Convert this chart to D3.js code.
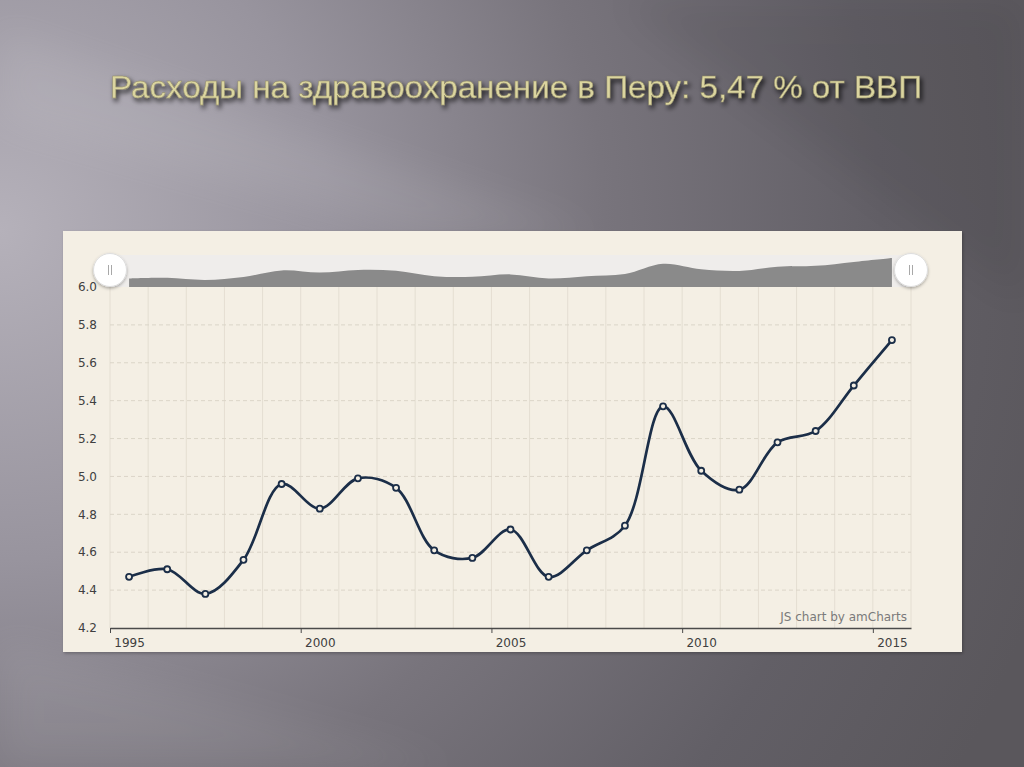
<!DOCTYPE html>
<html>
<head>
<meta charset="utf-8">
<script src="https://cdn.jsdelivr.net/npm/d3@7"></script>
<style>
  html, body { margin: 0; padding: 0; background: #6a676d; }
  svg { display: block; }
</style>
</head>
<body>
<svg id="chart" width="1024" height="767"></svg>
<script>
// ---- data ----
const title = "Расходы на здравоохранение в Перу: 5,47 % от ВВП";
const years = [1995,1996,1997,1998,1999,2000,2001,2002,2003,2004,2005,2006,2007,2008,2009,2010,2011,2012,2013,2014,2015];
const values = [4.47,4.51,4.38,4.56,4.96,4.83,4.99,4.94,4.61,4.57,4.72,4.47,4.61,4.74,5.37,5.03,4.93,5.18,5.24,5.48,5.72];
const yTicks = [4.2,4.4,4.6,4.8,5.0,5.2,5.4,5.6,5.8,6.0];
const xTickYears = [1995,2000,2005,2010,2015];
const credit = "JS chart by amCharts";

const svg = d3.select("#chart");
const defs = svg.append("defs");

// ---- slide background ----
const bg = defs.append("radialGradient").attr("id","bg")
  .attr("gradientUnits","userSpaceOnUse").attr("cx",0).attr("cy",230).attr("r",1100);
bg.append("stop").attr("offset","0").attr("stop-color","#b5b1ba");
bg.append("stop").attr("offset","0.3").attr("stop-color","#98949e");
bg.append("stop").attr("offset","0.55").attr("stop-color","#78747c");
bg.append("stop").attr("offset","0.8").attr("stop-color","#625f66");
bg.append("stop").attr("offset","1").attr("stop-color","#5a575c");
svg.append("rect").attr("width",1024).attr("height",767).attr("fill","url(#bg)");

const blur = defs.append("filter").attr("id","blur").attr("x","-20%").attr("y","-20%").attr("width","140%").attr("height","140%");
blur.append("feGaussianBlur").attr("stdDeviation",18);
svg.append("path").attr("d","M0,120 L420,235 L600,235 L0,30 Z").attr("fill","#ffffff").attr("opacity",0.07).attr("filter","url(#blur)");
svg.append("path").attr("d","M0,640 L460,767 L0,767 Z").attr("fill","#ffffff").attr("opacity",0.06).attr("filter","url(#blur)");
svg.append("path").attr("d","M620,0 L1024,0 L1024,300 Z").attr("fill","#000000").attr("opacity",0.06).attr("filter","url(#blur)");

// title
const tShadow = defs.append("filter").attr("id","tshadow").attr("x","-10%").attr("y","-50%").attr("width","120%").attr("height","200%");
tShadow.append("feDropShadow").attr("dx",2).attr("dy",3).attr("stdDeviation",2.5).attr("flood-color","#000").attr("flood-opacity",0.85);
svg.append("text")
  .attr("x",516).attr("y",98)
  .attr("text-anchor","middle")
  .attr("font-family","'Liberation Sans',Arial,sans-serif")
  .attr("font-size",32)
  .attr("textLength",812).attr("lengthAdjust","spacingAndGlyphs")
  .attr("fill","#dbd59f")
  .attr("stroke","#8c8660").attr("stroke-width",0.4)
  .attr("filter","url(#tshadow)")
  .text(title);

// ---- chart panel ----
const panelShadow = defs.append("filter").attr("id","pshadow").attr("x","-5%").attr("y","-5%").attr("width","110%").attr("height","115%");
panelShadow.append("feDropShadow").attr("dx",1).attr("dy",1.5).attr("stdDeviation",1.5).attr("flood-color","#000").attr("flood-opacity",0.25);
svg.append("rect").attr("x",63).attr("y",231).attr("width",899).attr("height",421)
  .attr("fill","#f4efe4").attr("filter","url(#pshadow)");

const x = d3.scaleLinear().domain([1995, 2016]).range([110, 911]);
const y = d3.scaleLinear().domain([4.2, 6.0]).range([628, 287]);
const ys = d3.scaleLinear().domain([3.95, 5.75]).range([287, 257.5]); // scrollbar mini-graph

const g = svg.append("g");
const labelFont = "'DejaVu Sans',Verdana,sans-serif";

// vertical grid (each year)
g.selectAll("line.vgrid").data(d3.range(1995, 2017)).join("line")
  .attr("class","vgrid")
  .attr("x1", d => x(d)).attr("x2", d => x(d))
  .attr("y1", y(6.0)).attr("y2", y(4.2))
  .attr("stroke","#e4ded2").attr("stroke-width",1);

// horizontal dashed grid
g.selectAll("line.hgrid").data(yTicks.filter(v => v > 4.2 && v < 6.0)).join("line")
  .attr("class","hgrid")
  .attr("x1", x(1995)).attr("x2", x(2016))
  .attr("y1", d => y(d)).attr("y2", d => y(d))
  .attr("stroke","#dbd5c8").attr("stroke-width",1).attr("stroke-dasharray","4,3");

// y labels
g.selectAll("text.ylab").data(yTicks).join("text")
  .attr("class","ylab")
  .attr("x", 97).attr("y", d => y(d)).attr("dy","0.35em")
  .attr("text-anchor","end")
  .attr("font-family",labelFont).attr("font-size",12)
  .attr("fill","#404040")
  .text(d => d3.format(".1f")(d));

// x axis
const xAxis = d3.axisBottom(x).tickValues(xTickYears).tickSize(5).tickSizeOuter(0).tickFormat(d3.format("d"));
const ax = g.append("g").attr("transform", `translate(0,${y(4.2)})`).call(xAxis);
ax.select(".domain").attr("stroke","#4a4a4a").attr("stroke-width",1.5);
ax.selectAll(".tick line").attr("stroke","#4a4a4a");
ax.selectAll(".tick text")
  .attr("dx", x(1995.5) - x(1995)).attr("dy","0.95em")
  .attr("font-family",labelFont).attr("font-size",12)
  .attr("fill","#404040");

// credit
g.append("text").attr("x", 907).attr("y", 621).attr("text-anchor","end")
  .attr("font-family",labelFont).attr("font-size",12)
  .attr("fill","#7a7a7a").text(credit);

// line
const pts = years.map((yr, i) => [yr + 0.5, values[i]]);
const line = d3.line().x(d => x(d[0])).y(d => y(d[1])).curve(d3.curveCatmullRom.alpha(0.5));
g.append("path").datum(pts).attr("d", line)
  .attr("fill","none").attr("stroke","#1b2e48").attr("stroke-width",2.7);
g.selectAll("circle.bullet").data(pts).join("circle")
  .attr("class","bullet")
  .attr("cx", d => x(d[0])).attr("cy", d => y(d[1])).attr("r",3)
  .attr("fill","#f4efe4").attr("stroke","#1b2e48").attr("stroke-width",1.8);

// ---- scrollbar ----
g.append("rect").attr("x", x(1995)).attr("y", 255).attr("width", x(2016) - x(1995)).attr("height", 32)
  .attr("fill","#efedeb");
const area = d3.area().x(d => x(d[0])).y0(ys.range()[0]).y1(d => ys(d[1])).curve(d3.curveCatmullRom.alpha(0.5));
g.append("path").datum(pts).attr("d", area).attr("fill","#8a8a8a");

const hShadow = defs.append("filter").attr("id","hshadow").attr("x","-50%").attr("y","-50%").attr("width","200%").attr("height","200%");
hShadow.append("feDropShadow").attr("dx",0).attr("dy",1.5).attr("stdDeviation",1.5).attr("flood-color","#000").attr("flood-opacity",0.3);
const handles = g.selectAll("g.handle").data([1995, 2016]).join("g")
  .attr("class","handle")
  .attr("transform", d => `translate(${x(d)},270)`);
handles.append("circle").attr("r",16.5).attr("fill","#ffffff").attr("stroke","#dedede").attr("filter","url(#hshadow)");
handles.append("line").attr("x1",-1.5).attr("x2",-1.5).attr("y1",-5).attr("y2",5).attr("stroke","#a8a8a8");
handles.append("line").attr("x1",1.5).attr("x2",1.5).attr("y1",-5).attr("y2",5).attr("stroke","#a8a8a8");
</script>
</body>
</html>
